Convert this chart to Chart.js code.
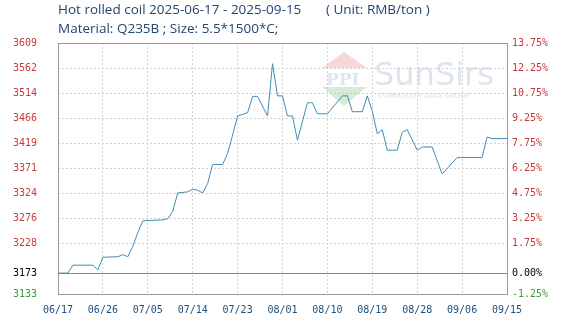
<!DOCTYPE html>
<html>
<head>
<meta charset="utf-8">
<script src="https://cdn.jsdelivr.net/npm/chart.js@4.4.1/dist/chart.umd.min.js"></script>
<style>
  html, body { margin: 0; padding: 0; background: #fff; }
  #wrap { width: 576px; height: 321px; }
</style>
</head>
<body>
<div id="wrap"><canvas id="priceChart" width="576" height="321"></canvas></div>
<script>
// price points (2025)
const dates = ['06/17', '06/19', '06/20', '06/24', '06/25', '06/26', '06/29', '06/30', '07/01', '07/02',
  '07/03', '07/04', '07/08', '07/09', '07/10', '07/11', '07/13', '07/14', '07/15', '07/16',
  '07/17', '07/18', '07/20', '07/21', '07/22', '07/23', '07/25', '07/26', '07/27', '07/29',
  '07/30', '07/31', '08/01', '08/02', '08/03', '08/04', '08/06', '08/07', '08/08', '08/10',
  '08/13', '08/14', '08/15', '08/17', '08/18', '08/19', '08/20', '08/21', '08/22', '08/24',
  '08/25', '08/26', '08/28', '08/29', '08/31', '09/02', '09/05', '09/10', '09/11', '09/12', '09/15'];
const prices = [3173, 3173, 3188, 3188, 3179, 3203, 3204, 3208, 3204, 3224,
  3250, 3272, 3274, 3276, 3290, 3325, 3327, 3332, 3330, 3325,
  3343, 3379, 3379, 3400, 3435, 3471, 3477, 3508, 3508, 3471,
  3570, 3509, 3509, 3471, 3471, 3425, 3496, 3496, 3475, 3475,
  3509, 3509, 3479, 3479, 3509, 3480, 3437, 3445, 3406, 3406,
  3440, 3445, 3406, 3412, 3412, 3361, 3392, 3392, 3431, 3428, 3428];

const xTickLabels = ['06/17', '06/26', '07/05', '07/14', '07/23', '08/01', '08/10', '08/19', '08/28', '09/06', '09/15'];
const basePrice = 3173;
const pctSteps = [-1.25, 0, 1.75, 3.25, 4.75, 6.25, 7.75, 9.25, 10.75, 12.25, 13.75];
const leftTickLabels = ['3133', '3173', '3228', '3276', '3324', '3371', '3419', '3466', '3514', '3562', '3609'];
const rightTickLabels = ['-1.25%', '0.00%', '1.75%', '3.25%', '4.75%', '6.25%', '7.75%', '9.25%', '10.75%', '12.25%', '13.75%'];

function dayOffset(md) {
  const [m, d] = md.split('/').map(Number);
  return Math.round((Date.UTC(2025, m - 1, d) - Date.UTC(2025, 5, 17)) / 86400000);
}

const points = dates.map((d, i) => ({ x: dayOffset(d), y: prices[i] }));
const yMin = basePrice * (1 + pctSteps[0] / 100);
const yMax = basePrice * (1 + pctSteps[pctSteps.length - 1] / 100);

function labelColor(i) {
  if (pctSteps[i] > 0) return '#c83a3a';
  if (pctSteps[i] < 0) return '#3e9a3e';
  return '#000000';
}

const monoFont = { family: "'DejaVu Sans Mono', monospace", size: 10 };

const decor = {
  id: 'decor',
  beforeDatasetsDraw(chart) {
    const ctx = chart.ctx;
    const a = chart.chartArea;
    ctx.save();
    // watermark
    ctx.fillStyle = 'rgba(235,140,140,0.35)';
    ctx.beginPath();
    ctx.moveTo(322, 68); ctx.lineTo(344, 52); ctx.lineTo(367, 68); ctx.closePath(); ctx.fill();
    ctx.fillStyle = 'rgba(140,200,140,0.35)';
    ctx.beginPath();
    ctx.moveTo(322, 87); ctx.lineTo(367, 87); ctx.lineTo(344, 106); ctx.closePath(); ctx.fill();
    ctx.fillStyle = 'rgba(175,190,220,0.4)';
    ctx.font = "bold 17px 'DejaVu Serif', serif";
    ctx.textBaseline = 'alphabetic';
    ctx.fillText('PPI', 326, 85);
    ctx.fillStyle = 'rgba(200,210,225,0.6)';
    ctx.font = "32px 'DejaVu Sans', sans-serif";
    ctx.fillText('SunSirs', 374, 85);
    ctx.fillStyle = 'rgba(200,200,200,0.6)';
    ctx.font = "7px 'DejaVu Sans', sans-serif";
    ctx.fillText('COMMODITY DATA GROUP', 378, 98);
    // box and base line
    ctx.strokeStyle = '#9a9a9a';
    ctx.lineWidth = 1;
    ctx.strokeRect(Math.round(a.left) + 0.5, Math.round(a.top) + 0.5, Math.round(a.right - a.left), Math.round(a.bottom - a.top));
    const yb = Math.round(chart.scales.y.getPixelForValue(basePrice)) + 0.5;
    ctx.beginPath();
    ctx.moveTo(a.left, yb); ctx.lineTo(a.right, yb);
    ctx.strokeStyle = '#8a8a8a';
    ctx.stroke();
    ctx.restore();
  },
  afterDraw(chart) {
    const ctx = chart.ctx;
    ctx.save();
    ctx.fillStyle = '#24456e';
    ctx.font = "13.5px 'Open Sans', sans-serif";
    ctx.textBaseline = 'alphabetic';
    ctx.fillText('Hot rolled coil 2025-06-17 - 2025-09-15', 58, 14);
    ctx.fillText('( Unit: RMB/ton )', 326, 14);
    ctx.fillText('Material: Q235B ; Size: 5.5*1500*C;', 58, 33);
    ctx.restore();
  }
};

function setTicks(scale) {
  scale.ticks = pctSteps.map(p => ({ value: basePrice * (1 + p / 100) }));
}

new Chart(document.getElementById('priceChart'), {
  type: 'line',
  data: {
    datasets: [{
      data: points,
      borderColor: '#3f8cb4',
      borderWidth: 1,
      pointRadius: 0,
      tension: 0,
      fill: false
    }]
  },
  options: {
    responsive: false,
    animation: false,
    layout: { padding: { top: 43, left: 0, right: 0, bottom: 0 } },
    plugins: { legend: { display: false }, tooltip: { enabled: false } },
    scales: {
      x: {
        type: 'linear',
        min: 0,
        max: 90,
        afterBuildTicks: scale => { scale.ticks = xTickLabels.map(dayOffset).map(v => ({ value: v })); },
        afterFit: scale => { scale.height = 25; },
        ticks: {
          autoSkip: false,
          maxRotation: 0,
          padding: 10,
          color: '#1f4f7a',
          font: monoFont,
          callback: (v, i) => xTickLabels[i]
        },
        grid: { color: '#d2d2d2', drawTicks: false },
        border: { display: false, dash: [2, 2] }
      },
      y: {
        position: 'left',
        min: yMin,
        max: yMax,
        afterBuildTicks: setTicks,
        afterFit: scale => { scale.width = 58; },
        ticks: {
          padding: 21,
          font: monoFont,
          color: ctx => labelColor(ctx.index),
          callback: (v, i) => leftTickLabels[i]
        },
        grid: { color: '#d2d2d2', drawTicks: false },
        border: { display: false, dash: [2, 2] }
      },
      y1: {
        position: 'right',
        min: yMin,
        max: yMax,
        afterBuildTicks: setTicks,
        afterFit: scale => { scale.width = 69; },
        ticks: {
          padding: 5,
          font: monoFont,
          color: ctx => labelColor(ctx.index),
          callback: (v, i) => rightTickLabels[i]
        },
        grid: { display: false, drawTicks: false },
        border: { display: false }
      }
    }
  },
  plugins: [decor]
});
</script>
</body>
</html>
